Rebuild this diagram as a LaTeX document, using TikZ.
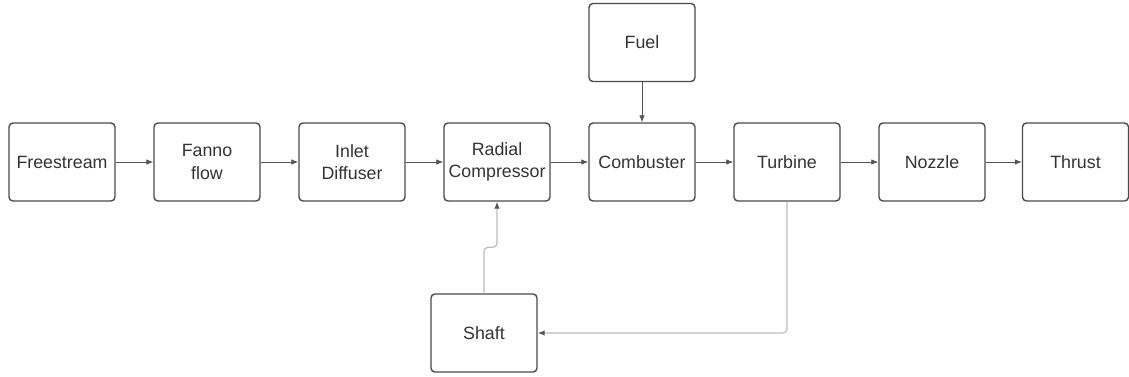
\documentclass[tikz,border=0pt]{standalone}
\usepackage{fontspec}
\setmainfont{Liberation Sans}
\usetikzlibrary{arrows.meta}
\definecolor{boxline}{HTML}{4A4A4A}
\definecolor{txt}{HTML}{333333}
\definecolor{arr}{HTML}{555555}
\definecolor{lightarr}{HTML}{BDBDBD}
\tikzset{
  blk/.style={draw=boxline, line width=1.4pt, rounded corners=4pt, minimum width=106pt, minimum height=78pt, inner sep=2pt, align=center, text=txt, font=\fontsize{17.8}{22.5}\selectfont},
  flow/.style={draw=arr, line width=0.8pt, -{Latex[length=7pt,width=5.5pt]}},
  lflow/.style={draw=lightarr, line width=1.2pt, rounded corners=4pt, -{Latex[length=7pt,width=5.5pt,color=arr]}}
}
\begin{document}
\begin{tikzpicture}[x=1pt,y=-1pt]
\useasboundingbox (0,0) rectangle (1129,377);
\node[blk] (free) at (62,162) {Freestream};
\node[blk] (fanno) at (207,162) {Fanno\\flow};
\node[blk] (inlet) at (352,162) {Inlet\\Diffuser};
\node[blk] (comp) at (497,162) {Radial\\Compressor};
\node[blk] (comb) at (642,162) {Combuster};
\node[blk] (turb) at (787,162) {Turbine};
\node[blk] (noz) at (932,162) {Nozzle};
\node[blk] (thr) at (1075.5,162) {Thrust};
\node[blk] (fuel) at (642,42.5) {Fuel};
\node[blk] (shaft) at (484,333) {Shaft};
\draw[flow] (free) -- (fanno);
\draw[flow] (fanno) -- (inlet);
\draw[flow] (inlet) -- (comp);
\draw[flow] (comp) -- (comb);
\draw[flow] (comb) -- (turb);
\draw[flow] (turb) -- (noz);
\draw[flow] (noz) -- (thr);
\draw[flow] (fuel) -- (comb);
\draw[lflow] (shaft.north) -- ++(0,-46) -| (comp.south);
\draw[lflow] (turb.south) |- (shaft.east);
\end{tikzpicture}
\end{document}
